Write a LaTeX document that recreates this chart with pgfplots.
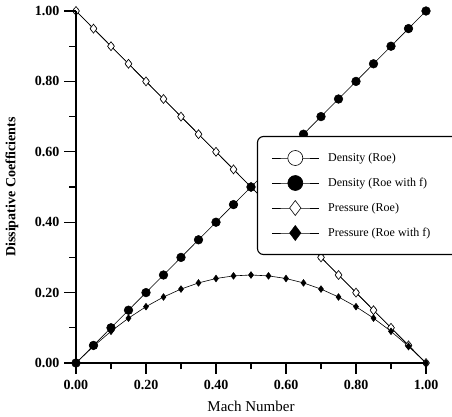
\documentclass[border=0pt]{standalone}
\usepackage{fontspec}
\setmainfont{Liberation Serif}
\usepackage{pgfplots}
\usepackage{pgfplotstable}
\pgfplotsset{compat=1.18}

% Mach number, density/pressure dissipative coefficients
\pgfplotstableread{
M     droe  droef  proe  proef
0.00  1.00  0.00   1.00  0.0000
0.05  0.95  0.05   0.95  0.0475
0.10  0.90  0.10   0.90  0.0900
0.15  0.85  0.15   0.85  0.1275
0.20  0.80  0.20   0.80  0.1600
0.25  0.75  0.25   0.75  0.1875
0.30  0.70  0.30   0.70  0.2100
0.35  0.65  0.35   0.65  0.2275
0.40  0.60  0.40   0.60  0.2400
0.45  0.55  0.45   0.55  0.2475
0.50  0.50  0.50   0.50  0.2500
0.55  0.45  0.55   0.45  0.2475
0.60  0.40  0.60   0.40  0.2400
0.65  0.35  0.65   0.35  0.2275
0.70  0.30  0.70   0.30  0.2100
0.75  0.25  0.75   0.25  0.1875
0.80  0.20  0.80   0.20  0.1600
0.85  0.15  0.85   0.15  0.1275
0.90  0.10  0.90   0.10  0.0900
0.95  0.05  0.95   0.05  0.0475
1.00  0.00  1.00   0.00  0.0000
}\coefdata

\begin{document}
\begin{tikzpicture}
\begin{axis}[
  scale only axis, width=350pt, height=352pt,
  xmin=0, xmax=1, ymin=0, ymax=1,
  axis line style={draw=none},
  xtick={0,0.2,...,1}, ytick={0,0.2,...,1},
  minor xtick={0.1,0.3,...,0.9}, minor ytick={0.1,0.3,...,0.9},
  xtick pos=bottom, ytick pos=left,
  tick align=outside,
  major tick style={draw=black, line width=1.1pt},
  minor tick style={draw=black, line width=1.1pt},
  major tick length=11pt, minor tick length=6.5pt,
  /pgf/number format/assume math mode=true,
  /pgf/number format/fixed, /pgf/number format/fixed zerofill,
  /pgf/number format/precision=2,
  ticklabel style={font=\fontsize{14}{14}\selectfont\bfseries},
  xticklabel style={yshift=-3pt},
  yticklabel style={xshift=-2pt},
  xlabel={Mach Number},
  ylabel={Dissipative Coefficients},
  xlabel style={font=\fontsize{15}{15}\selectfont, at={(axis description cs:0.5,-0.122)}, anchor=center},
  ylabel style={font=\fontsize{14}{14}\selectfont\bfseries, at={(axis description cs:-0.183,0.5)}, anchor=center, rotate=0},
  legend style={at={(axis description cs:0.517,0.645)}, anchor=north west,
    draw=black, line width=1.1pt, rounded corners=6pt,
    font=\fontsize{12}{14}\selectfont, row sep=10pt, column sep=7pt,
    inner xsep=14pt, inner ysep=14pt},
  legend cell align=left,
  legend image code/.code={
    \draw[mark repeat=2, mark phase=2, line width=0.6pt]
      plot coordinates {(0pt,0pt) (23.5pt,0pt) (47pt,0pt)};
  },
]
% legend entries with the larger legend symbols
\addlegendimage{black, mark=*, mark size=7.5pt, mark options={fill=white, line width=0.6pt}}
\addlegendentry{Density (Roe)}
\addlegendimage{black, mark=*, mark size=7.5pt, mark options={fill=black}}
\addlegendentry{Density (Roe with f)}
\addlegendimage{black, mark=diamond*, mark size=7.5pt, mark options={fill=white, line width=0.6pt}}
\addlegendentry{Pressure (Roe)}
\addlegendimage{black, mark=diamond*, mark size=7.5pt, mark options={fill=black}}
\addlegendentry{Pressure (Roe with f)\hspace*{40pt}}

\addplot[black, line width=0.6pt, mark=*, mark size=3pt, mark options={fill=white}, forget plot]
  table[x=M, y=droe] {\coefdata};
\addplot[black, line width=0.6pt, mark=diamond*, mark size=4.5pt, mark options={fill=white}, forget plot]
  table[x=M, y=proe] {\coefdata};
\addplot[black, line width=0.6pt, mark=*, mark size=4.3pt, mark options={fill=black}, forget plot]
  table[x=M, y=droef] {\coefdata};
\addplot[black, line width=0.6pt, mark=diamond*, mark size=3.3pt, mark options={fill=black}, forget plot]
  table[x=M, y=proef] {\coefdata};
\end{axis}
% left and bottom axis lines with outward ticks
\draw[line width=1.1pt] (0pt,352pt) -- (0pt,0pt) -- (350pt,0pt);
\foreach \i in {0,...,5} {
  \draw[line width=1.1pt] (\i*70pt,0pt) -- (\i*70pt,-10pt);
  \draw[line width=1.1pt] (0pt,\i*70.4pt) -- (-12pt,\i*70.4pt);
}
\foreach \i in {0,...,4} {
  \draw[line width=1.1pt] (\i*70pt+35pt,0pt) -- (\i*70pt+35pt,-6.5pt);
  \draw[line width=1.1pt] (0pt,\i*70.4pt+35.2pt) -- (-6.5pt,\i*70.4pt+35.2pt);
}
\pgfresetboundingbox
\path[use as bounding box] (-76pt,-54pt) rectangle (376pt,363pt);
\end{tikzpicture}
\end{document}
